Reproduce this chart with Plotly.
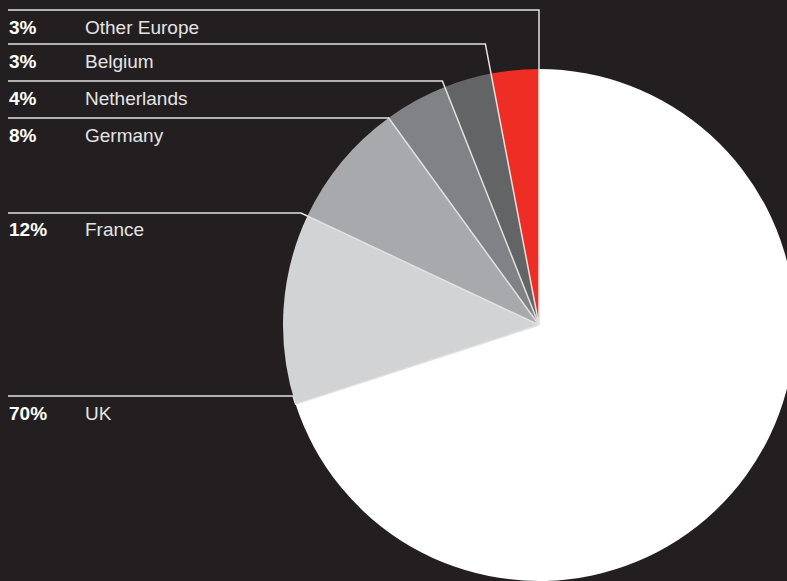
import math
import plotly.graph_objects as go

# Revenue share by region, listed from the top of the pie going anticlockwise
regions = ["Other Europe", "Belgium", "Netherlands", "Germany", "France", "UK"]
shares = [3, 3, 4, 8, 12, 70]
share_labels = ["3%", "3%", "4%", "8%", "12%", "70%"]
slice_colors = ["#ee2e24", "#636466", "#808285", "#a7a9ac", "#d1d3d4", "#ffffff"]

# vertical pixel rows of the legend rules
row_y = [10, 44, 81, 118, 213, 396]

W, H = 800, 592
CX, CY, R = 539, 325, 256
BG = "#231f20"
RULE = "#e2e2e2"
FONT = "Liberation Sans, Arial, Helvetica, sans-serif"


def px(x):
    return x / W


def py(y):
    return 1 - y / H


# Drawn clockwise from 12 o'clock in reverse order, so the first region
# ends up immediately to the left of the top.
fig = go.Figure(
    go.Pie(
        labels=regions[::-1],
        values=shares[::-1],
        sort=False,
        direction="clockwise",
        marker=dict(colors=slice_colors[::-1], line=dict(width=0)),
        textinfo="none",
        hoverinfo="label+percent",
        domain=dict(x=[px(CX - R), px(CX + R)], y=[py(CY + R), py(CY - R)]),
        showlegend=False,
    )
)

total = sum(shares)
shapes = []
annotations = []
cum = 0
for name, val, lab, s in zip(regions, shares, share_labels, row_y):
    # angle of the slice's leading edge, anticlockwise from 12 o'clock
    theta = 2 * math.pi * cum / total
    cum += val
    ex = CX - R * math.sin(theta)
    ey = CY - R * math.cos(theta)
    pts = [(8, s)]
    c = math.cos(theta)
    t = (CY - s) / c if abs(c) > 1e-9 else 0
    if t >= R:
        pts.append((CX - t * math.sin(theta), s))
    else:
        pts.append((CX - math.sqrt(max(R * R - (s - CY) ** 2, 0)), s))
    pts.append((ex, ey))
    pts.append((CX, CY))
    path = "M " + " L ".join(f"{px(x):.5f},{py(y):.5f}" for x, y in pts)
    shapes.append(dict(type="path", path=path, xref="paper", yref="paper",
                       line=dict(color=RULE, width=1.5)))
    annotations.append(dict(x=px(7), y=py(s + 17), xref="paper", yref="paper",
                            text=f"<b>{lab}</b>", showarrow=False,
                            xanchor="left", yanchor="middle",
                            font=dict(family=FONT, size=19, color="#ffffff")))
    annotations.append(dict(x=px(83), y=py(s + 17), xref="paper", yref="paper",
                            text=name, showarrow=False,
                            xanchor="left", yanchor="middle",
                            font=dict(family=FONT, size=19, color="#e4e4e4")))

fig.update_layout(
    width=W, height=H, autosize=False,
    margin=dict(l=0, r=0, t=0, b=0),
    paper_bgcolor=BG, plot_bgcolor=BG,
    shapes=shapes, annotations=annotations,
)

fig.write_html(
    "out.html",
    config={"displayModeBar": False},
    post_script="document.documentElement.style.overflow='hidden';"
                "document.body.style.overflow='hidden';"
                "document.body.style.margin='0';"
                "document.body.style.background='#231f20';",
)
